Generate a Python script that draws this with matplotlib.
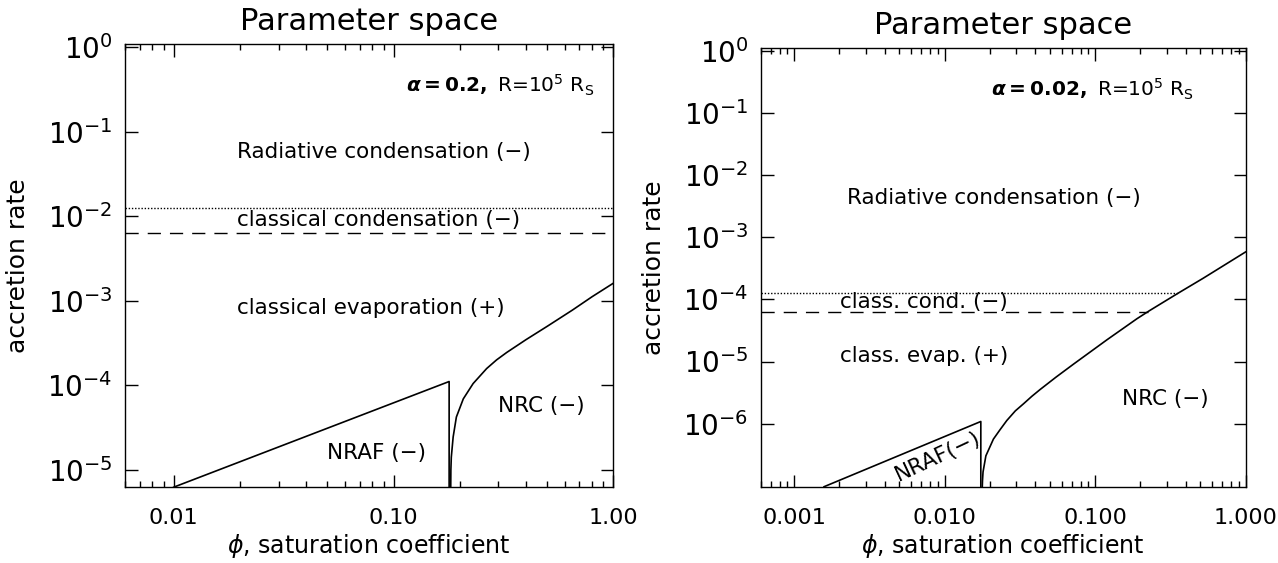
import matplotlib
import matplotlib.pyplot as plt
from matplotlib.ticker import FixedLocator, LogLocator, NullLocator, NullFormatter

matplotlib.use('Agg')

# left panel: alpha = 0.2
L_XLIM = (0.006, 1.0)
L_YLIM = (6.22e-6, 1.086)
L_XTICKS = [0.01, 0.1, 1.0]
L_XTICKLABELS = ['0.01', '0.10', '1.00']
L_YEXP = [0, -1, -2, -3, -4, -5]
L_DOTTED = 0.0126
L_DASHED = 0.00634
L_NRAF_PHI = [0.01, 0.1789, 0.1789]
L_NRAF_RATE = [6.24e-6, 1.11e-4, 5e-6]
L_NRC_PHI = [0.1818, 0.1822, 0.183, 0.1866, 0.193, 0.2075, 0.230, 0.265,
             0.294, 0.327, 0.40, 0.50, 0.65, 0.80, 1.0]
L_NRC_RATE = [5e-6, 1.0e-5, 1.41e-5, 2.45e-5, 4.22e-5, 6.92e-5, 1.05e-4, 1.58e-4,
              2.0e-4, 2.45e-4, 3.47e-4, 5.0e-4, 7.76e-4, 1.12e-3, 1.62e-3]

# right panel: alpha = 0.02
R_XLIM = (0.0006, 1.0)
R_YLIM = (9.4e-8, 1.117)
R_XTICKS = [0.001, 0.01, 0.1, 1.0]
R_XTICKLABELS = ['0.001', '0.010', '0.100', '1.000']
R_YEXP = [0, -1, -2, -3, -4, -5, -6]
R_DOTTED = 1.26e-4
R_DOTTED_END = 0.357
R_DASHED = 6.3e-5
R_DASHED_END = 0.225
R_NRAF_PHI = [0.00158, 0.0174, 0.0174]
R_NRAF_RATE = [9.6e-8, 1.08e-6, 8e-8]
R_NRC_PHI = [0.01775, 0.01785, 0.0180, 0.0188, 0.0211, 0.0233, 0.0259, 0.0295,
             0.0335, 0.038, 0.0432, 0.055, 0.0721, 0.120, 0.19, 0.23, 0.358, 0.522, 1.0]
R_NRC_RATE = [8e-8, 1.2e-7, 1.66e-7, 3.02e-7, 5.62e-7, 7.9e-7, 1.12e-6, 1.6e-6,
              2.09e-6, 2.75e-6, 3.55e-6, 5.6e-6, 9.12e-6, 2.24e-5, 4.9e-5, 6.6e-5,
              1.27e-4, 2.19e-4, 5.82e-4]

plt.rcParams['font.family'] = ['DejaVu Sans']
plt.rcParams['mathtext.fontset'] = 'dejavusans'

fig = plt.figure(figsize=(12.78, 5.63), dpi=100)


def setup_axes(ax, xlim, ylim, xticks, xticklabels, yexp):
    ax.set_xscale('log')
    ax.set_yscale('log')
    ax.set_xlim(*xlim)
    ax.set_ylim(*ylim)
    ax.xaxis.set_major_locator(FixedLocator(xticks))
    ax.set_xticklabels(xticklabels)
    ax.xaxis.set_minor_locator(LogLocator(base=10, subs=range(2, 10), numticks=20))
    ax.xaxis.set_minor_formatter(NullFormatter())
    ax.yaxis.set_major_locator(FixedLocator([10.0 ** e for e in yexp]))
    ax.set_yticklabels([r'$10^{%d}$' % e for e in yexp])
    ax.yaxis.set_minor_locator(NullLocator())
    ax.tick_params(which='both', direction='in', top=True, right=True, width=1)
    ax.tick_params(which='major', length=9)
    ax.tick_params(which='minor', length=4.5)
    ax.tick_params(axis='x', labelsize=16, pad=15)
    ax.tick_params(axis='y', labelsize=20, pad=9)
    for s in ax.spines.values():
        s.set_linewidth(1)
    ax.set_title('Parameter space', fontsize=22, pad=10)
    ax.set_xlabel(r'$\phi$, saturation coefficient', fontsize=17, labelpad=3)
    ax.set_ylabel('accretion rate', fontsize=18)
    ax.yaxis.set_label_coords(-0.195, 0.5)


dot_style = (0, (1, 1.3))
dash_style = (0, (9.5, 6.5))

# left
ax1 = fig.add_axes([0.0978, 0.1345, 0.3822, 0.7868])
setup_axes(ax1, L_XLIM, L_YLIM, L_XTICKS, L_XTICKLABELS, L_YEXP)
ax1.plot(L_XLIM, [L_DOTTED, L_DOTTED], color='black', lw=1, ls=dot_style)
ax1.plot(L_XLIM, [L_DASHED, L_DASHED], color='black', lw=1, ls=dash_style)
ax1.plot(L_NRAF_PHI, L_NRAF_RATE, color='black', lw=1.2)
ax1.plot(L_NRC_PHI, L_NRC_RATE, color='black', lw=1.2)

ax1.text(0.961, 0.9075, r'$\boldsymbol{\alpha}\mathbf{=0.2,}$ R=10$^5$ R$_\mathrm{S}$',
         transform=ax1.transAxes, ha='right', va='center', fontsize=14.5)
ax1.text(0.229, 0.757, 'Radiative condensation (\u2212)', transform=ax1.transAxes,
         ha='left', va='center', fontsize=15.5)
ax1.text(0.229, 0.604, 'classical condensation (\u2212)', transform=ax1.transAxes,
         ha='left', va='center', fontsize=15.5)
ax1.text(0.229, 0.404, 'classical evaporation (+)', transform=ax1.transAxes,
         ha='left', va='center', fontsize=15.5)
ax1.text(0.414, 0.0775, 'NRAF (\u2212)', transform=ax1.transAxes,
         ha='left', va='center', fontsize=15.5)
ax1.text(0.763, 0.184, 'NRC (\u2212)', transform=ax1.transAxes,
         ha='left', va='center', fontsize=15.5)

# right
ax2 = fig.add_axes([0.5953, 0.1345, 0.3793, 0.7798])
setup_axes(ax2, R_XLIM, R_YLIM, R_XTICKS, R_XTICKLABELS, R_YEXP)
ax2.plot([R_XLIM[0], R_DOTTED_END], [R_DOTTED, R_DOTTED], color='black', lw=1, ls=dot_style)
ax2.plot([R_XLIM[0], R_DASHED_END], [R_DASHED, R_DASHED], color='black', lw=1, ls=dash_style)
ax2.plot(R_NRAF_PHI, R_NRAF_RATE, color='black', lw=1.2)
ax2.plot(R_NRC_PHI, R_NRC_RATE, color='black', lw=1.2)

ax2.text(0.894, 0.906, r'$\boldsymbol{\alpha}\mathbf{=0.02,}$ R=10$^5$ R$_\mathrm{S}$',
         transform=ax2.transAxes, ha='right', va='center', fontsize=14.5)
ax2.text(0.177, 0.658, 'Radiative condensation (\u2212)', transform=ax2.transAxes,
         ha='left', va='center', fontsize=15.5)
ax2.text(0.164, 0.422, 'class. cond. (\u2212)', transform=ax2.transAxes,
         ha='left', va='center', fontsize=15.5)
ax2.text(0.164, 0.298, 'class. evap. (+)', transform=ax2.transAxes,
         ha='left', va='center', fontsize=15.5)
ax2.text(0.745, 0.2, 'NRC (\u2212)', transform=ax2.transAxes,
         ha='left', va='center', fontsize=15.5)
ax2.text(0.366, 0.07, 'NRAF(\u2212)', transform=ax2.transAxes,
         ha='center', va='center', fontsize=15.5, rotation=25)

fig.savefig('out.png', dpi=100)
